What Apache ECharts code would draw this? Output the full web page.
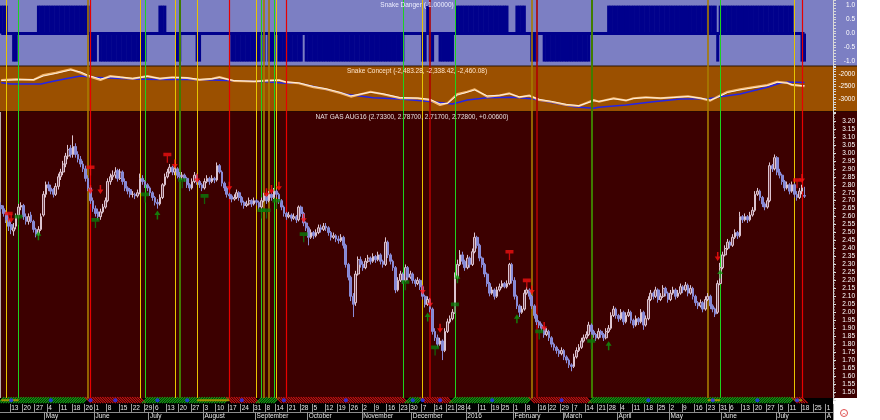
<!DOCTYPE html>
<html><head><meta charset="utf-8">
<script src="https://cdn.jsdelivr.net/npm/echarts@6/dist/echarts.min.js"></script>
<style>html,body{margin:0;padding:0;background:#fff}#c{width:880px;height:420px}</style>
</head><body><div id="c"></div>
<script>
// ---------- DATA ----------
const holidays = ['2015-05-25','2015-07-03','2015-09-07','2015-11-26','2015-12-25','2016-01-01','2016-01-18','2016-02-15','2016-03-25','2016-05-30','2016-07-04'];
const firstDay = '2015-04-07';
const slotCount = 336;

const opens = [
2.67,2.65,2.62,2.58,2.55,2.51,2.54,2.61,2.66,2.67,
2.60,2.57,2.61,2.57,2.52,2.49,2.52,2.61,2.74,2.80,
2.78,2.77,2.74,2.79,2.85,2.88,2.93,2.98,3.03,2.99,
3.04,2.99,2.96,2.93,2.90,2.84,2.78,2.70,2.65,2.63,
2.60,2.63,2.66,2.70,2.82,2.85,2.86,2.89,2.84,2.88,
2.82,2.78,2.77,2.74,2.74,2.73,2.75,2.84,2.82,2.80,
2.78,2.75,2.72,2.69,2.68,2.72,2.80,2.85,2.88,2.91,
2.88,2.90,2.86,2.85,2.86,2.84,2.80,2.78,2.82,2.86,
2.82,2.80,2.78,2.82,2.84,2.82,2.84,2.83,2.92,2.88,
2.81,2.78,2.74,2.73,2.71,2.72,2.75,2.72,2.69,2.67,
2.68,2.70,2.68,2.70,2.69,2.66,2.70,2.73,2.70,2.74,
2.72,2.76,2.74,2.70,2.66,2.62,2.60,2.61,2.59,2.60,
2.58,2.66,2.62,2.56,2.53,2.47,2.50,2.48,2.50,2.53,
2.52,2.54,2.53,2.50,2.47,2.48,2.46,2.45,2.47,2.42,
2.30,2.22,2.10,2.06,2.24,2.33,2.30,2.28,2.32,2.34,
2.32,2.35,2.33,2.36,2.32,2.30,2.44,2.36,2.32,2.28,
2.14,2.20,2.24,2.20,2.28,2.22,2.24,2.20,2.18,2.20,
2.16,2.10,2.05,2.08,2.02,1.88,1.84,1.80,1.82,1.76,
1.88,1.94,1.96,2.00,2.22,2.30,2.36,2.32,2.28,2.34,
2.30,2.38,2.47,2.42,2.34,2.30,2.24,2.18,2.12,2.14,
2.10,2.14,2.16,2.18,2.16,2.18,2.30,2.20,2.10,2.04,
2.00,2.02,2.12,2.14,2.10,2.04,1.98,1.94,1.92,1.90,
1.86,1.88,1.84,1.80,1.78,1.76,1.74,1.76,1.72,1.70,
1.67,1.66,1.72,1.76,1.78,1.82,1.84,1.86,1.92,1.88,
1.86,1.84,1.88,1.86,1.84,1.88,1.90,1.98,2.02,1.98,
1.96,2.00,1.94,1.98,2.00,1.95,1.92,1.96,1.94,2.00,
1.92,1.96,2.08,2.12,2.10,2.14,2.08,2.10,2.15,2.12,
2.08,2.12,2.14,2.10,2.12,2.16,2.14,2.17,2.12,2.15,
2.10,2.06,2.04,2.06,2.02,2.08,2.10,2.04,2.02,2.00,
2.18,2.28,2.36,2.40,2.44,2.42,2.47,2.50,2.48,2.60,
2.58,2.60,2.58,2.61,2.64,2.74,2.76,2.72,2.68,2.66,
2.70,2.92,2.90,2.97,2.88,2.86,2.82,2.78,2.80,2.76,
2.80,2.74,2.72,2.76,2.733];
const closes = [
2.65,2.62,2.58,2.54,2.52,2.53,2.60,2.66,2.67,2.60,
2.57,2.60,2.57,2.52,2.49,2.52,2.60,2.74,2.80,2.78,
2.76,2.74,2.79,2.85,2.88,2.93,2.98,3.02,2.99,3.04,
2.99,2.96,2.93,2.90,2.84,2.78,2.70,2.65,2.62,2.60,
2.63,2.66,2.70,2.82,2.85,2.86,2.88,2.84,2.88,2.82,
2.78,2.76,2.74,2.74,2.73,2.75,2.84,2.82,2.80,2.78,
2.75,2.72,2.69,2.68,2.72,2.80,2.85,2.88,2.91,2.88,
2.90,2.86,2.85,2.86,2.84,2.80,2.78,2.82,2.86,2.82,
2.80,2.78,2.82,2.84,2.82,2.84,2.83,2.92,2.88,2.81,
2.78,2.74,2.73,2.71,2.72,2.75,2.72,2.69,2.67,2.68,
2.70,2.68,2.70,2.69,2.66,2.70,2.73,2.70,2.74,2.72,
2.76,2.74,2.70,2.66,2.62,2.60,2.61,2.59,2.60,2.58,
2.66,2.62,2.56,2.53,2.47,2.50,2.48,2.50,2.53,2.52,
2.54,2.53,2.50,2.47,2.48,2.46,2.45,2.47,2.42,2.30,
2.22,2.10,2.05,2.24,2.33,2.30,2.28,2.32,2.34,2.32,
2.35,2.33,2.36,2.32,2.30,2.44,2.36,2.32,2.28,2.14,
2.20,2.24,2.20,2.28,2.22,2.24,2.20,2.18,2.20,2.16,
2.10,2.05,2.08,2.02,1.88,1.84,1.80,1.82,1.76,1.88,
1.94,1.96,2.00,2.22,2.30,2.36,2.32,2.28,2.34,2.30,
2.38,2.47,2.42,2.34,2.30,2.24,2.18,2.12,2.14,2.10,
2.14,2.16,2.18,2.16,2.18,2.30,2.20,2.10,2.04,2.00,
2.02,2.12,2.14,2.10,2.04,1.98,1.94,1.92,1.90,1.86,
1.88,1.84,1.80,1.78,1.76,1.74,1.76,1.72,1.70,1.67,
1.66,1.72,1.76,1.78,1.82,1.84,1.86,1.92,1.88,1.86,
1.84,1.88,1.86,1.84,1.88,1.90,1.98,2.02,1.98,1.96,
2.00,1.94,1.98,2.00,1.95,1.92,1.96,1.94,2.00,1.92,
1.96,2.08,2.12,2.10,2.14,2.08,2.10,2.15,2.12,2.08,
2.12,2.14,2.10,2.12,2.16,2.14,2.17,2.12,2.15,2.10,
2.06,2.04,2.06,2.02,2.08,2.10,2.04,2.02,1.99,2.18,
2.28,2.36,2.40,2.44,2.42,2.47,2.50,2.48,2.60,2.58,
2.60,2.58,2.61,2.64,2.74,2.76,2.72,2.68,2.66,2.70,
2.92,2.90,2.97,2.88,2.86,2.82,2.78,2.80,2.76,2.80,
2.74,2.72,2.76,2.78,2.728];
const highs = [
2.69,2.67,2.64,2.60,2.57,2.56,2.62,2.68,2.69,2.68,
2.62,2.62,2.63,2.58,2.53,2.54,2.62,2.76,2.82,2.82,
2.80,2.78,2.81,2.87,2.90,2.95,3.00,3.05,3.05,3.11,
3.06,3.01,2.98,2.95,2.92,2.86,2.79,2.72,2.67,2.65,
2.65,2.68,2.72,2.84,2.87,2.89,2.91,2.90,2.90,2.89,
2.84,2.79,2.78,2.76,2.75,2.77,2.87,2.86,2.83,2.81,
2.79,2.76,2.73,2.71,2.74,2.81,2.87,2.90,2.93,2.92,
2.92,2.91,2.88,2.88,2.87,2.85,2.81,2.84,2.88,2.87,
2.83,2.81,2.84,2.86,2.85,2.86,2.85,2.94,2.93,2.89,
2.82,2.79,2.75,2.74,2.74,2.77,2.76,2.73,2.70,2.70,
2.72,2.71,2.72,2.71,2.70,2.72,2.75,2.74,2.76,2.75,
2.78,2.77,2.75,2.71,2.67,2.63,2.63,2.62,2.62,2.61,
2.67,2.67,2.63,2.57,2.54,2.52,2.51,2.52,2.55,2.55,
2.56,2.56,2.54,2.51,2.50,2.49,2.48,2.49,2.48,2.43,
2.31,2.23,2.12,2.26,2.35,2.35,2.32,2.34,2.36,2.35,
2.37,2.36,2.38,2.37,2.33,2.47,2.45,2.37,2.33,2.29,
2.22,2.26,2.25,2.30,2.29,2.26,2.25,2.21,2.22,2.21,
2.17,2.11,2.10,2.09,2.03,1.90,1.86,1.84,1.83,1.90,
1.96,1.98,2.02,2.25,2.33,2.39,2.38,2.33,2.36,2.35,
2.40,2.50,2.48,2.43,2.35,2.31,2.25,2.19,2.16,2.15,
2.16,2.18,2.20,2.19,2.20,2.31,2.31,2.22,2.11,2.05,
2.04,2.14,2.16,2.15,2.11,2.05,1.99,1.95,1.93,1.91,
1.90,1.89,1.85,1.81,1.79,1.77,1.78,1.77,1.73,1.71,
1.68,1.74,1.78,1.80,1.84,1.86,1.88,1.94,1.93,1.89,
1.87,1.90,1.89,1.87,1.90,1.92,2.00,2.04,2.03,1.99,
2.02,2.01,2.00,2.02,2.01,1.96,1.98,1.97,2.02,2.01,
1.98,2.10,2.14,2.13,2.16,2.15,2.12,2.17,2.16,2.13,
2.14,2.16,2.15,2.14,2.18,2.17,2.19,2.18,2.17,2.16,
2.11,2.07,2.08,2.07,2.10,2.12,2.11,2.05,2.03,2.20,
2.31,2.38,2.42,2.46,2.45,2.49,2.52,2.51,2.63,2.61,
2.62,2.61,2.63,2.66,2.76,2.78,2.77,2.73,2.69,2.72,
2.94,2.93,2.99,2.98,2.90,2.87,2.83,2.82,2.81,2.82,
2.81,2.76,2.78,2.80,2.787];
const lows = [
2.63,2.60,2.56,2.51,2.49,2.48,2.52,2.59,2.64,2.58,
2.55,2.55,2.56,2.50,2.47,2.48,2.51,2.60,2.72,2.76,
2.74,2.72,2.73,2.77,2.83,2.86,2.91,2.96,2.97,2.97,
2.97,2.94,2.91,2.88,2.82,2.76,2.68,2.63,2.60,2.58,
2.58,2.62,2.65,2.69,2.80,2.83,2.84,2.82,2.83,2.80,
2.76,2.74,2.72,2.72,2.71,2.72,2.74,2.80,2.78,2.76,
2.73,2.70,2.67,2.65,2.67,2.71,2.79,2.84,2.87,2.86,
2.86,2.84,2.83,2.83,2.82,2.78,2.76,2.77,2.81,2.80,
2.78,2.76,2.77,2.81,2.80,2.81,2.81,2.82,2.87,2.79,
2.76,2.72,2.71,2.69,2.70,2.71,2.70,2.67,2.65,2.66,
2.67,2.66,2.67,2.67,2.64,2.65,2.69,2.68,2.69,2.70,
2.71,2.72,2.68,2.64,2.60,2.58,2.59,2.57,2.58,2.56,
2.57,2.60,2.54,2.51,2.42,2.46,2.46,2.47,2.49,2.50,
2.51,2.51,2.48,2.45,2.46,2.44,2.43,2.44,2.40,2.28,
2.20,2.07,1.97,2.04,2.23,2.28,2.26,2.27,2.31,2.30,
2.31,2.31,2.32,2.30,2.28,2.29,2.34,2.30,2.26,2.12,
2.13,2.19,2.18,2.19,2.20,2.21,2.18,2.16,2.17,2.14,
2.08,2.03,2.04,2.00,1.86,1.82,1.78,1.79,1.70,1.75,
1.87,1.93,1.95,1.99,2.21,2.29,2.30,2.26,2.27,2.28,
2.29,2.37,2.40,2.32,2.28,2.22,2.16,2.10,2.11,2.08,
2.09,2.13,2.15,2.15,2.15,2.17,2.18,2.08,2.02,1.97,
1.99,2.01,2.11,2.08,2.02,1.96,1.92,1.90,1.88,1.84,
1.85,1.82,1.78,1.76,1.74,1.72,1.73,1.70,1.68,1.65,
1.63,1.65,1.71,1.75,1.77,1.81,1.83,1.85,1.86,1.84,
1.82,1.83,1.84,1.82,1.83,1.87,1.89,1.97,1.96,1.94,
1.95,1.92,1.93,1.97,1.93,1.90,1.91,1.92,1.93,1.89,
1.91,1.95,2.07,2.08,2.09,2.06,2.07,2.09,2.10,2.06,
2.07,2.11,2.08,2.09,2.11,2.12,2.13,2.10,2.11,2.08,
2.04,2.02,2.03,2.00,2.01,2.07,2.02,2.00,1.97,1.99,
2.17,2.27,2.35,2.39,2.40,2.41,2.46,2.46,2.47,2.56,
2.57,2.56,2.57,2.60,2.63,2.73,2.70,2.66,2.64,2.65,
2.69,2.88,2.89,2.86,2.84,2.80,2.76,2.77,2.74,2.75,
2.72,2.70,2.71,2.74,2.717];

// Snake Danger: runs of [firstBar, lastBar, value]; other bars are 0
const dangerRuns = [[0,2,1],[5,6,-1],[15,35,1],[36,38,-1],[40,58,-1],[64,66,1],[71,72,-1],[79,80,-1],
  [93,104,-1],[106,106,-1],[108,110,-1],[112,121,-1],[123,162,-1],[170,171,-1],[172,172,1],[173,174,-1],
  [177,182,-1],[184,204,1],[208,211,1],[214,216,-1],[219,237,-1],[245,288,1],[289,289,-1],[290,319,1],[323,324,-1]];
const dangerLastBar = 324;

// Snake Concept: [bar, value]
const conceptOrange = [[0,-2237],[6,-2210],[13,-2237],[17,-2040],[22,-1950],[28,-1815],[32,-1950],[35,-2080],[40,-2237],[44,-2080],[48,-2130],[53,-2184],[59,-2080],[64,-2184],[69,-2130],[75,-2160],[80,-2237],[85,-2184],[88,-2120],[94,-2280],[102,-2300],[107,-2260],[112,-2237],[115,-2330],[120,-2368],[126,-2526],[131,-2605],[137,-2763],[141,-2895],[149,-2697],[154,-2800],[161,-2960],[168,-2960],[173,-3026],[177,-3224],[180,-3150],[184,-2789],[188,-2697],[191,-2605],[196,-2895],[201,-2850],[205,-2763],[209,-2920],[213,-2850],[217,-3026],[222,-3100],[228,-3224],[233,-3263],[239,-3026],[241,-3092],[247,-2960],[252,-3050],[255,-2960],[260,-2920],[266,-2960],[271,-2920],[277,-2880],[282,-2960],[286,-3053],[289,-2895],[293,-2697],[298,-2605],[303,-2526],[309,-2434],[313,-2303],[317,-2350],[319,-2434],[323,-2474],[324,-2483]];
const conceptWhite = [[0,-2260],[6,-2230],[13,-2220],[17,-2080],[22,-1980],[28,-1840],[32,-1920],[35,-2050],[40,-2200],[44,-2110],[48,-2120],[53,-2170],[59,-2100],[64,-2170],[69,-2140],[75,-2150],[80,-2210],[85,-2190],[88,-2140],[94,-2260],[102,-2290],[107,-2270],[112,-2250],[115,-2310],[120,-2350],[126,-2490],[131,-2580],[137,-2730],[141,-2860],[149,-2720],[154,-2780],[161,-2930],[168,-2950],[173,-3000],[177,-3180],[180,-3160],[184,-2830],[188,-2720],[191,-2630],[196,-2860],[201,-2840],[205,-2780],[209,-2900],[213,-2860],[217,-3000],[222,-3080],[228,-3200],[233,-3250],[239,-3060],[241,-3080],[247,-2980],[252,-3040],[255,-2970],[260,-2930],[266,-2950],[271,-2930],[277,-2890],[282,-2950],[286,-3030],[289,-2920],[293,-2730],[298,-2630],[303,-2550],[309,-2460],[313,-2330],[317,-2360],[319,-2420],[323,-2455],[324,-2460]];
const conceptBlue = [[0,-2342],[4,-2395],[16,-2395],[20,-2303],[26,-2184],[32,-2080],[37,-2130],[44,-2160],[53,-2200],[64,-2220],[75,-2220],[85,-2237],[94,-2270],[107,-2303],[115,-2368],[120,-2368],[129,-2566],[139,-2800],[150,-2934],[161,-2987],[174,-3092],[182,-3184],[188,-3026],[196,-2934],[206,-2920],[214,-2974],[222,-3130],[231,-3289],[239,-3355],[241,-3316],[252,-3224],[263,-3092],[274,-2987],[285,-2974],[290,-2895],[298,-2789],[309,-2526],[314,-2368],[317,-2316],[324,-2338]];

// signal lines [bar, kind]
const signalLines = [[2,'Y'],[7,'G'],[35,'O'],[36,'R'],[56,'Y'],[58,'G'],[70,'Y'],[72,'DG'],[79,'Y'],[92,'R'],[103,'Y'],[105,'G'],[106,'O'],[108,'O'],[110,'G'],[111,'Y'],[115,'R'],[162,'G'],[170,'Y'],[173,'DR'],[183,'G'],[214,'O'],[216,'DR'],[238,'DG'],[285,'O'],[290,'G'],[320,'Y'],[323,'R']];

// markers [bar, price]
const sellArrows = [[4,2.59],[36,2.77],[40,2.77],[70,2.93],[79,2.84],[92,2.79],[107,2.75],[109,2.77],[112,2.79],[122,2.59],[170,2.14],[173,2.06],[177,1.90],[214,2.14],[219,1.91],[289,2.35],[323,2.84]];
const buyArrows = [[15,2.48],[63,2.61],[172,1.97],[184,2.21],[208,1.96],[245,1.79],[290,2.24]];
const sellFlags = [[3,2.62],[36,2.91],[67,2.99],[205,2.38],[212,2.20],[321,2.83]];
const buyFlags = [[7,2.60],[38,2.58],[58,2.74],[73,2.83],[82,2.73],[105,2.64],[107,2.64],[111,2.70],[122,2.49],[163,2.19],[175,1.78],[183,2.05],[217,1.88],[238,1.82]];

// trend strip
const trendRuns = [[0,34,1],[35,57,-1],[58,91,1],[92,103,-1],[104,111,1],[112,163,-1],[164,169,1],[170,181,-1],[182,213,1],[214,237,-1],[238,319,1],[320,324,-1]];
const trendDots = [4,20,36,46,63,75,97,114,139,166,170,177,198,226,261,287,305,321];
const trendBars = [[0,7],[79,92],[285,290],[320,323]];

const titleDanger = 'Snake Danger (-1.00000)';
const titleConcept = 'Snake Concept (-2,483.28, -2,338.42, -2,460.08)';
const titlePrice = 'NAT GAS AUG16 (2.73300, 2.78700, 2.71700, 2.72800, +0.00600)';
const monthNames = ['January','February','March','April','May','June','July','August','September','October','November','December'];

// ---------- BUILD ----------
const dates = [], dows = [];
(function(){
  let d = new Date(firstDay + 'T00:00:00Z');
  while (dates.length < slotCount) {
    const s = d.toISOString().slice(0,10), w = d.getUTCDay();
    if (w !== 0 && w !== 6 && holidays.indexOf(s) < 0) { dates.push(s); dows.push(w); }
    d = new Date(d.getTime() + 86400000);
  }
})();
const weekStart = dates.map((s,i)=> i>0 && dows[i] <= dows[i-1]);
const monthStart = dates.map((s,i)=> i>0 && s.slice(5,7) !== dates[i-1].slice(5,7));

const candles = closes.map((c,i)=>[opens[i], c, lows[i], highs[i]]);
const danger = closes.map(()=>0);
dangerRuns.forEach(r=>{ for(let i=r[0];i<=r[1];i++) danger[i]=r[2]; });
const hatch = [];
trendRuns.forEach(r=>{ for(let i=r[0];i<=r[1];i++) hatch.push([i, r[2]]); });

const F = 'Liberation Sans, Arial, sans-serif';
const W = 833;
const lineStyles = {
  Y:{color:'#e8c400',width:1}, G:{color:'#1ed21e',width:1}, R:{color:'#e80000',width:1.2},
  DR:{color:'#b00000',width:1.6}, O:{color:'#a87c00',width:1.6}, DG:{color:'#3f7c00',width:2}
};

const baseGrid = {show:false, containLabel:false, outerBoundsMode:'none', left:0, width:W};
const hiddenX = (g)=>({type:'category', gridIndex:g, data:dates, boundaryGap:true, show:false});
const yLab = (fmt)=>({color:'#ffffff', fontSize:6.5, fontFamily:F, align:'right', margin:22, formatter:fmt});
const yLine = {show:true, lineStyle:{color:'#d8d8d8', width:1}};
const yTick = {show:true, length:3, lineStyle:{color:'#d8d8d8'}};

const option = {
  animation:false,
  backgroundColor:'#ffffff',
  grid:[
    Object.assign({}, baseGrid, {top:0, height:67.2}),
    Object.assign({}, baseGrid, {top:66.4, height:45.6}),
    Object.assign({}, baseGrid, {top:113.03, height:286.9}),
    Object.assign({}, baseGrid, {top:0, height:398}),
    Object.assign({}, baseGrid, {top:397.2, height:6})
  ],
  xAxis:[
    hiddenX(0), hiddenX(1),
    {type:'category', gridIndex:2, data:dates, boundaryGap:true, position:'bottom', offset:4, z:10,
      axisLine:{show:false},
      axisTick:{show:true, interval:(i)=>weekStart[i], length:8, lineStyle:{color:'#9a9a9a'}},
      axisLabel:{interval:(i)=>weekStart[i], formatter:(v)=>String(+v.slice(8,10)), color:'#e8e8e8', fontSize:6.5, fontFamily:F, align:'left', margin:1},
      splitLine:{show:false}},
    {type:'category', gridIndex:2, data:dates, boundaryGap:true, position:'bottom', offset:12, z:10,
      axisLine:{show:true, lineStyle:{color:'#8c8c8c', width:1}},
      axisTick:{show:true, interval:(i)=>monthStart[i], length:8, lineStyle:{color:'#9a9a9a'}},
      axisLabel:{interval:(i)=>monthStart[i], formatter:(v,i)=>{const m=+v.slice(5,7)-1; if(m===0) return v.slice(0,4); return i>330? monthNames[m].slice(0,1) : monthNames[m];}, color:'#e8e8e8', fontSize:6.5, fontFamily:F, align:'left', margin:1},
      splitLine:{show:false}},
    hiddenX(3), hiddenX(4)
  ],
  yAxis:[
    {type:'value', gridIndex:0, position:'right', min:-1.2, max:1.2, interval:0.1, splitLine:{show:false},
      axisLine:yLine, axisTick:yTick,
      axisLabel:yLab(v=>{const k=Math.round(v*10); return (Math.abs(k)%5===0 && Math.abs(k)<=10)?(k/10).toFixed(1):'';})},
    {type:'value', gridIndex:1, position:'right', min:-3500, max:-1700, interval:100, splitLine:{show:false},
      axisLine:yLine, axisTick:yTick,
      axisLabel:yLab(v=>{const k=Math.round(v); return (k%500===0 && k>=-3000 && k<=-2000)?String(k):'';})},
    {type:'value', gridIndex:2, position:'right', min:1.45, max:3.25, interval:0.05, splitLine:{show:false},
      axisLine:yLine, axisTick:{show:true, length:3, lineStyle:{color:'#d8d8d8'}},
      minorTick:{show:true, splitNumber:5, length:1.5, lineStyle:{color:'#c8c8c8'}},
      axisLabel:yLab(v=>(v>1.499 && v<3.201)? v.toFixed(2):'')},
    {type:'value', gridIndex:3, min:0, max:1, show:false},
    {type:'value', gridIndex:4, min:0, max:1, show:false}
  ],
  series:[
    {type:'bar', name:'danger', xAxisIndex:0, yAxisIndex:0, data:danger, barWidth:3,
      itemStyle:{color:'#00008c'}, z:2, silent:true,
      markLine:{silent:true, symbol:['none','none'], label:{show:false}, lineStyle:{color:'#00008c', width:3, type:'solid'},
        data:[[{coord:[0,0]},{coord:[dangerLastBar,0]}]]}},
    {type:'line', xAxisIndex:1, yAxisIndex:1, data:conceptBlue, symbol:'none', lineStyle:{color:'#2424e8', width:1.5}, z:2, silent:true},
    {type:'line', xAxisIndex:1, yAxisIndex:1, data:conceptOrange, symbol:'none', lineStyle:{color:'#f4b870', width:2}, z:2, silent:true},
    {type:'line', xAxisIndex:1, yAxisIndex:1, data:conceptWhite, symbol:'none', lineStyle:{color:'#ffffff', width:0.8}, z:2, silent:true},
    {type:'scatter', xAxisIndex:4, yAxisIndex:3, data:[], z:3, silent:true,
      markLine:{silent:true, symbol:['none','none'], label:{show:false},
        data: signalLines.map(s=>({xAxis:s[0], lineStyle:Object.assign({type:'solid'}, lineStyles[s[1]])}))}},
    {type:'candlestick', xAxisIndex:2, yAxisIndex:2, data:candles, barWidth:2.2, z:5, silent:true,
      itemStyle:{color:'#74404c', color0:'#8486d2', borderColor:'#dcc4d0', borderColor0:'#8a8cd8', borderWidth:1}},
    {type:'scatter', xAxisIndex:2, yAxisIndex:2, data:sellArrows, z:6, silent:true,
      symbol:'path://M3,0H5V5H8L4,10L0,5H3Z', symbolSize:[6,9], itemStyle:{color:'#ff1010'}},
    {type:'scatter', xAxisIndex:2, yAxisIndex:2, data:buyArrows, z:6, silent:true,
      symbol:'path://M4,0L8,5H5V10H3V5H0Z', symbolSize:[6,9], itemStyle:{color:'#0c9a0c'}},
    {type:'scatter', xAxisIndex:2, yAxisIndex:2, data:sellFlags, z:6, silent:true,
      symbol:'path://M0,0H10V4H5.8V11H4.2V4H0Z', symbolSize:[8,10], symbolOffset:[0,3.2], itemStyle:{color:'#ee1010'}},
    {type:'scatter', xAxisIndex:2, yAxisIndex:2, data:buyFlags, z:6, silent:true,
      symbol:'path://M0,0H10V4H5.8V11H4.2V4H0Z', symbolSize:[8,10], symbolOffset:[0,3.2], itemStyle:{color:'#0a7a0a'}},
    {type:'custom', xAxisIndex:5, yAxisIndex:4, data:hatch, z:3, silent:true,
      renderItem:function(params, api){
        const i=api.value(0), d=api.value(1);
        const p0=api.coord([i,0]), p1=api.coord([i,1]);
        const x=p0[0], yb=p0[1], yt=p1[1], h=(yb-yt)/2;
        return {type:'line', shape: d>0?{x1:x-h,y1:yb,x2:x+h,y2:yt}:{x1:x-h,y1:yt,x2:x+h,y2:yb},
          style:{stroke: d>0?'#14a814':'#cc1212', lineWidth:1.2}};
      }},
    {type:'custom', xAxisIndex:5, yAxisIndex:4, data:trendBars, z:4, silent:true,
      renderItem:function(params, api){
        const a=api.coord([api.value(0),0.5]), b=api.coord([api.value(1),0.5]);
        return {type:'rect', shape:{x:a[0], y:a[1]-1, width:b[0]-a[0], height:2}, style:{fill:'#a09000'}};
      }},
    {type:'scatter', xAxisIndex:5, yAxisIndex:4, data:trendDots.map(i=>[i,0.5]), z:5, silent:true,
      symbol:'circle', symbolSize:4, itemStyle:{color:'#2034ff'}}
  ],
  graphic:{elements:[
    {type:'rect', z:-100, silent:true, shape:{x:0,y:0,width:857,height:66}, style:{fill:'#7c7fc3'}},
    {type:'rect', z:-100, silent:true, shape:{x:0,y:66,width:857,height:46}, style:{fill:'#9b5000'}},
    {type:'rect', z:-100, silent:true, shape:{x:0,y:112,width:857,height:286}, style:{fill:'#3c0000'}},
    {type:'rect', z:-100, silent:true, shape:{x:0,y:398,width:W,height:22}, style:{fill:'#000000'}},
    {type:'line', z:-90, silent:true, shape:{x1:0,y1:66,x2:857,y2:66}, style:{stroke:'#2a1400', lineWidth:1}},
    {type:'line', z:-90, silent:true, shape:{x1:0,y1:111.5,x2:857,y2:111.5}, style:{stroke:'#2a0800', lineWidth:1}},
    {type:'line', z:-90, silent:true, shape:{x1:0.5,y1:112,x2:0.5,y2:398}, style:{stroke:'#b8b0b0', lineWidth:1}},
    {type:'text', z:50, silent:true, x:417, y:5, style:{text:titleDanger, fill:'#eeeeff', fontSize:6.5, fontFamily:F, align:'center', verticalAlign:'middle'}},
    {type:'text', z:50, silent:true, x:417, y:71, style:{text:titleConcept, fill:'#ffe4c8', fontSize:6.5, fontFamily:F, align:'center', verticalAlign:'middle'}},
    {type:'text', z:50, silent:true, x:412, y:117, style:{text:titlePrice, fill:'#e8dcdc', fontSize:6.5, fontFamily:F, align:'center', verticalAlign:'middle'}},
    {type:'circle', z:50, silent:true, shape:{cx:844,cy:413,r:3.5}, style:{fill:'none', stroke:'#e05050', lineWidth:1}},
    {type:'arc', z:50, silent:true, shape:{cx:844,cy:415,r:1.6,startAngle:Math.PI*1.1,endAngle:Math.PI*1.9}, style:{fill:'none', stroke:'#e05050', lineWidth:0.8}}
  ]}
};
const chart = echarts.init(document.getElementById('c'), null, {width:880, height:420});
chart.setOption(option);
</script></body></html>
